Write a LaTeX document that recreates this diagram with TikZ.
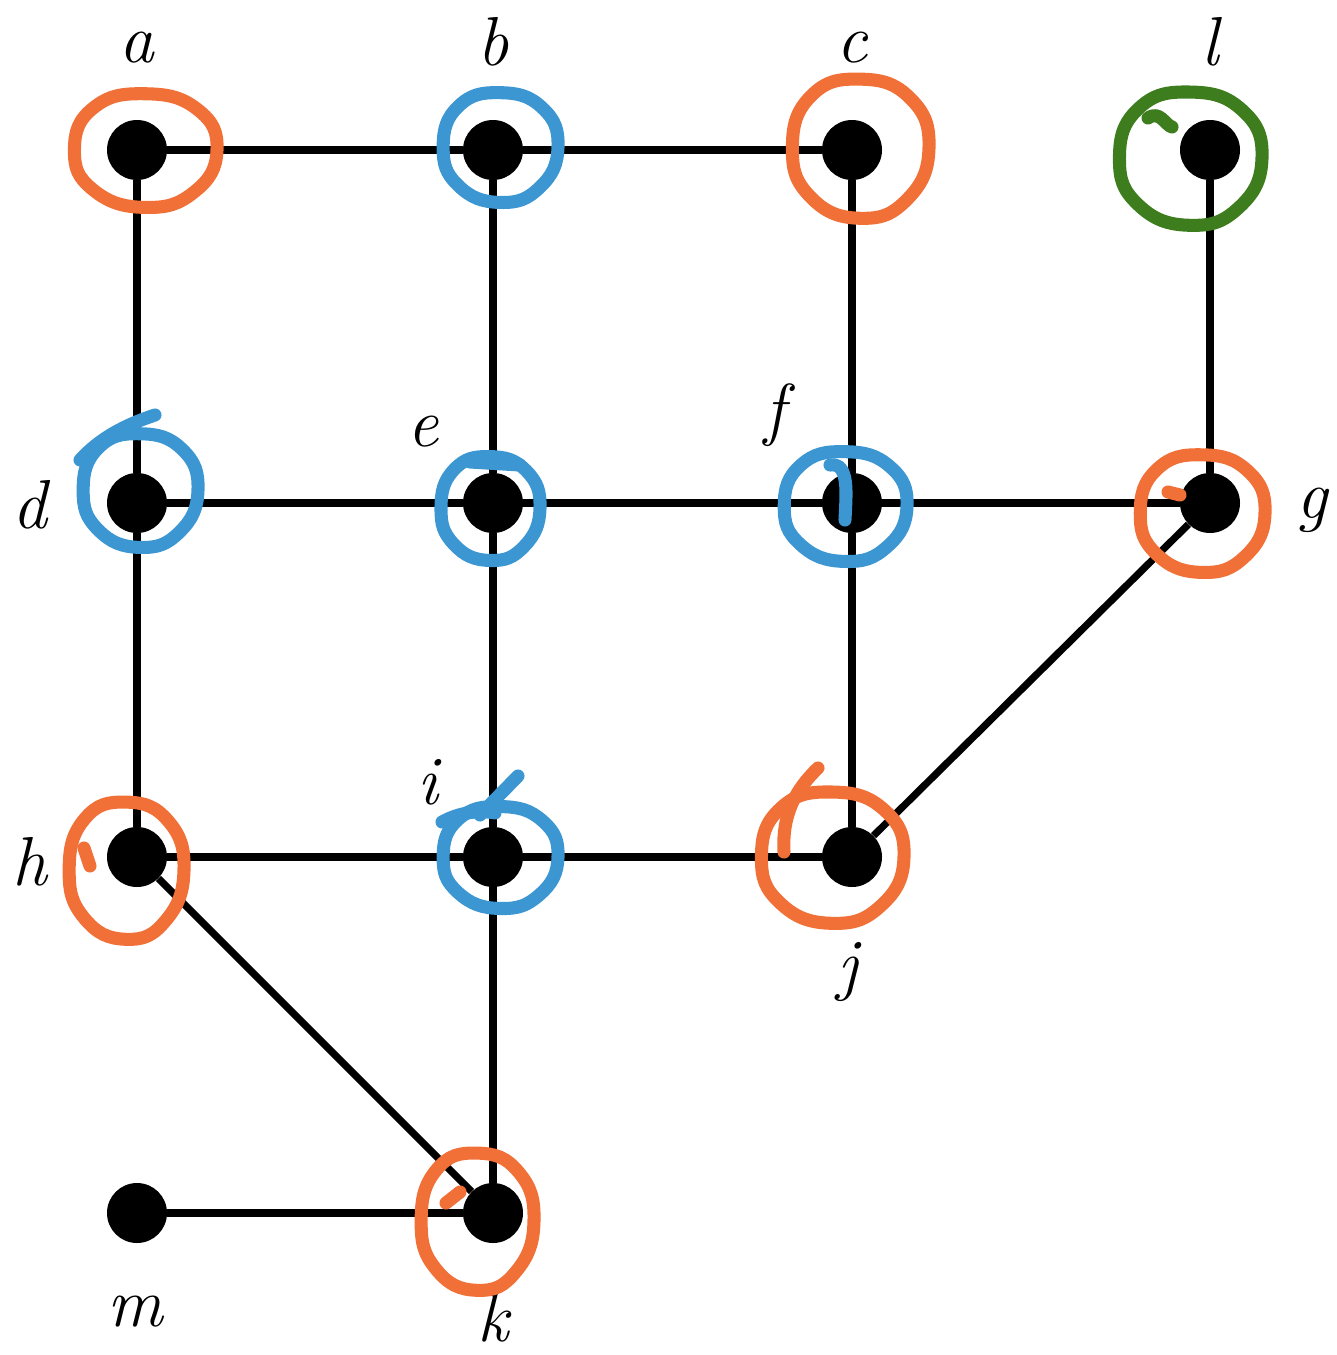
\documentclass[tikz,border=0pt]{standalone}
\usetikzlibrary{calc}
\definecolor{ringorange}{RGB}{240,112,56}
\definecolor{ringblue}{RGB}{59,150,210}
\definecolor{ringgreen}{RGB}{62,125,30}
% slightly uneven hand-drawn ring: centre x, centre y, radius x, radius y, style
\newcommand\handring[5]{%
  \draw[#5] plot[smooth cycle,tension=0.8] coordinates {
    ({#1+1.00*#3},{#2})
    ({#1+0.97*#3*cos(45)},{#2+1.02*#4*sin(45)})
    ({#1},{#2+0.99*#4})
    ({#1-1.02*#3*cos(45)},{#2+0.97*#4*sin(45)})
    ({#1-0.98*#3},{#2})
    ({#1-1.01*#3*cos(45)},{#2-1.03*#4*sin(45)})
    ({#1},{#2-0.97*#4})
    ({#1+1.03*#3*cos(45)},{#2-0.99*#4*sin(45)})
  };}
\begin{document}
\begin{tikzpicture}[x=0.75pt,y=-0.75pt,
  vertex/.style={circle,fill=black,minimum size=45pt,inner sep=0pt},
  edge/.style={line width=5.4pt},
  lbl/.style={font=\fontsize{52}{60}\selectfont\itshape,inner sep=0pt},
  stroke/.style={line width=9.8pt,line cap=round,line join=round},
  oring/.style={stroke,ringorange},
  bring/.style={stroke,ringblue},
  gring/.style={stroke,ringgreen}]
\useasboundingbox (0,0) rectangle (1337,1355);

% vertices
\node[vertex] (a) at (137,150) {};
\node[vertex] (b) at (493,150) {};
\node[vertex] (c) at (852,150) {};
\node[vertex] (l) at (1210,150) {};
\node[vertex] (d) at (137,503) {};
\node[vertex] (e) at (493,503) {};
\node[vertex] (f) at (852,503) {};
\node[vertex] (g) at (1210,503) {};
\node[vertex] (h) at (137,857) {};
\node[vertex] (i) at (493,857) {};
\node[vertex] (j) at (852,857) {};
\node[vertex] (m) at (137,1213) {};
\node[vertex] (k) at (493,1213) {};

% edges
\draw[edge] (a) -- (b);
\draw[edge] (b) -- (c);
\draw[edge] (a) -- (d);
\draw[edge] (b) -- (e);
\draw[edge] (c) -- (f);
\draw[edge] (l) -- (g);
\draw[edge] (d) -- (e);
\draw[edge] (e) -- (f);
\draw[edge] (f) -- (g);
\draw[edge] (d) -- (h);
\draw[edge] (e) -- (i);
\draw[edge] (f) -- (j);
\draw[edge] (g) -- (j);
\draw[edge] (h) -- (i);
\draw[edge] (i) -- (j);
\draw[edge] (h) -- (k);
\draw[edge] (i) -- (k);
\draw[edge] (m) -- (k);

% labels
\node[lbl] (la) at (137,48) {a};
\node[lbl] (lb) at (493,42) {b};
\node[lbl] (lc) at (852,48) {c};
\node[lbl] (ll) at (1210,42) {l};
\node[lbl] (ld) at (30,505) {d};
\node[lbl] (le) at (423,432) {e};
\node[lbl] (lf) at (775,415) {f};
\node[lbl] (lg) at (1312,510) {g};
\node[lbl] (lh) at (30,862) {h};
\node[lbl] (li) at (428,782) {i};
\node[lbl] (lj) at (848,972) {j};
\node[lbl] (lm) at (135,1312) {m};
\node[lbl] (lk) at (493,1318) {k};

% hand-drawn rings
\handring{145}{150}{72}{58}{oring}
\handring{500}{147}{58}{56}{bring}
\handring{860}{148}{69}{71}{oring}
\handring{1190}{158}{72}{68}{gring}
\draw[gring] (1148,118) .. controls (1160,110) and (1165,125) .. (1172,127);

\handring{140}{490}{58}{58}{bring}
\draw[bring] (80,460) .. controls (100,438) and (125,425) .. (155,415);
\handring{490}{508}{50}{53}{bring}
\draw[bring] (470,462) -- (520,465);
\handring{845}{506}{62}{56}{bring}
\draw[bring] (830,465) .. controls (850,462) and (846,495) .. (845,520);
\handring{1202}{513}{63}{60}{oring}
\draw[oring] (1168,492) -- (1180,495);

\handring{126}{870}{58}{70}{oring}
\draw[oring] (84,848) -- (90,866);
\handring{500}{857}{58}{52}{bring}
\draw[bring] (442,822) .. controls (460,812) and (480,810) .. (495,813);
\draw[bring] (480,815) -- (518,776);
\handring{832}{857}{72}{67}{oring}
\draw[oring] (784,852) .. controls (782,815) and (795,790) .. (818,768);
\handring{477}{1221}{57}{70}{oring}
\draw[oring] (446,1203) -- (460,1192);
\end{tikzpicture}
\end{document}
